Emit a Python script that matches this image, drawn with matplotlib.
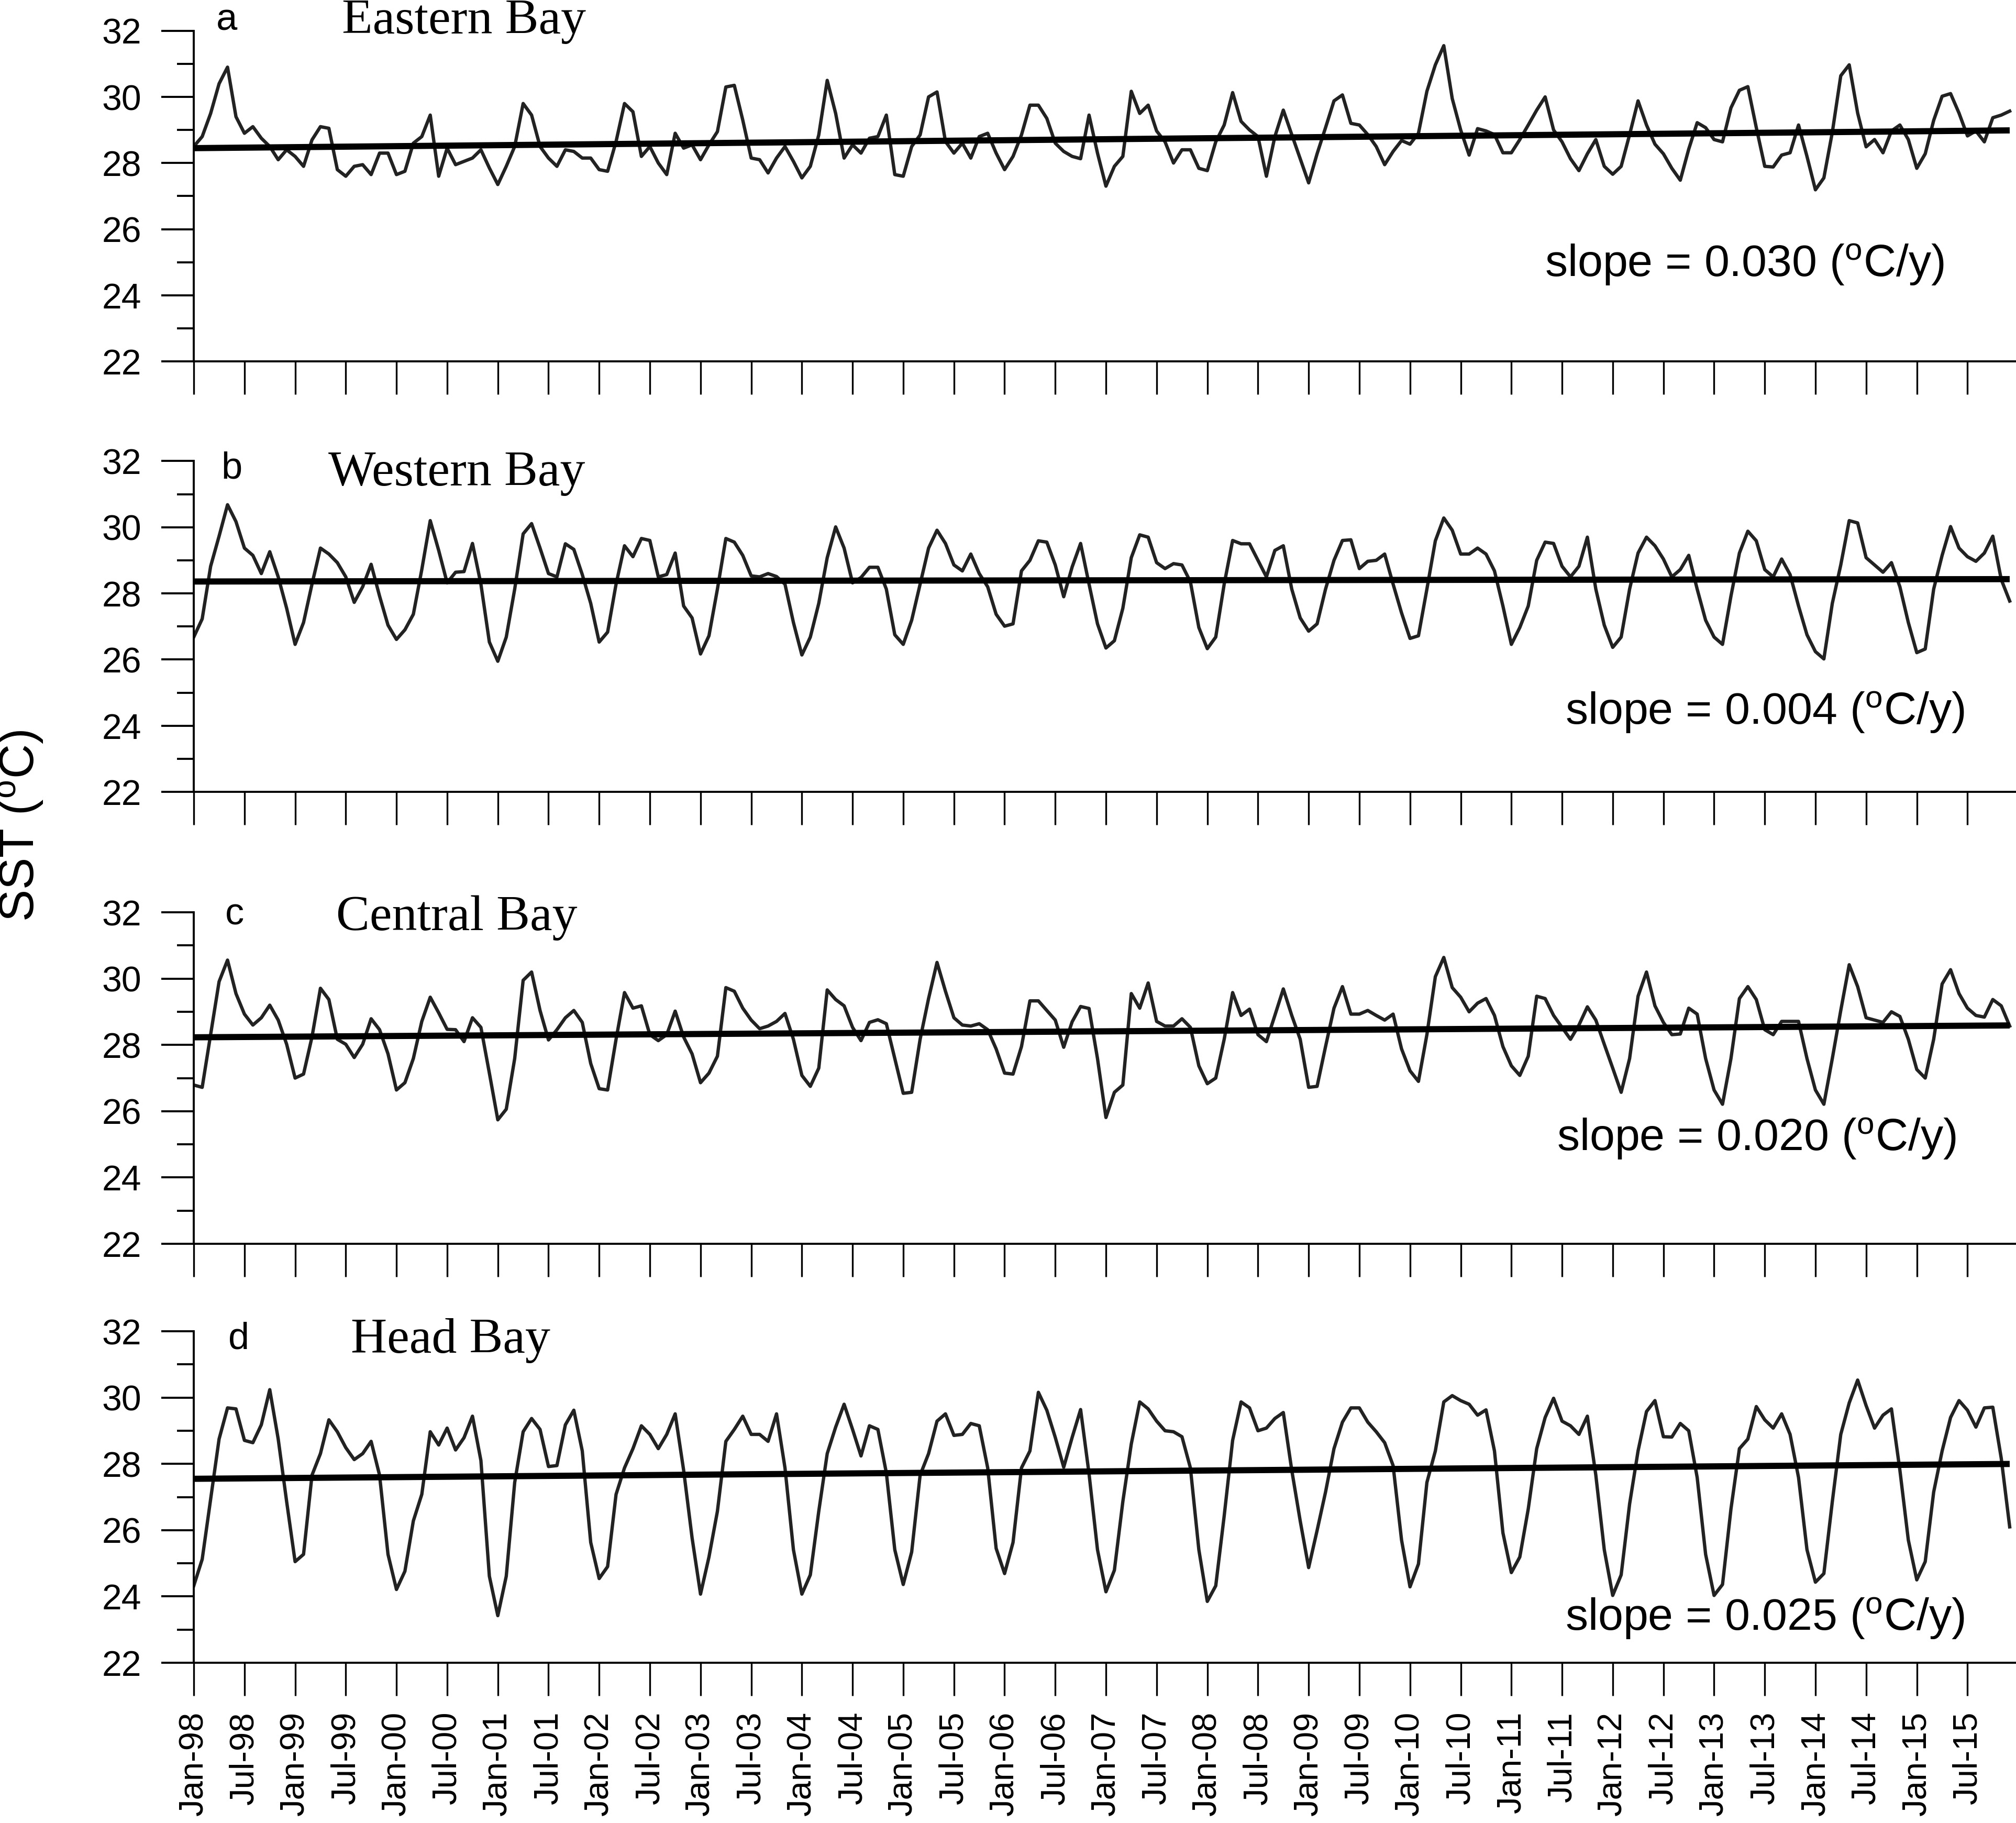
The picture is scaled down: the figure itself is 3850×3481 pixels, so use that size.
"""
Monthly SST in four parts of the Bay, Jan-98 to Dec-15, with linear trends.
"""
import matplotlib
matplotlib.use('Agg')
import matplotlib.pyplot as plt
import numpy as np

plt.rcParams['font.family'] = ['Liberation Sans', 'DejaVu Sans']
plt.rcParams['mathtext.default'] = 'regular'

###############################################################################
# Data (one value per month starting Jan-98)
###############################################################################

eastern_sst = [
    28.5, 28.8, 29.5, 30.4, 30.9, 29.4, 28.9, 29.1, 28.75, 28.5,
    28.1, 28.4, 28.2, 27.9, 28.7, 29.1, 29.05, 27.8, 27.6, 27.9,
    27.95, 27.65, 28.3, 28.3, 27.65, 27.75, 28.6, 28.8, 29.45, 27.6,
    28.45, 27.95, 28.05, 28.15, 28.4, 27.85, 27.35, 27.9, 28.5, 29.8,
    29.45, 28.5, 28.15, 27.9, 28.4, 28.35, 28.15, 28.15, 27.8, 27.75,
    28.65, 29.8, 29.55, 28.2, 28.5, 28.0, 27.65, 28.9, 28.45, 28.55,
    28.1, 28.55, 28.95, 30.3, 30.35, 29.3, 28.15, 28.1, 27.7, 28.15,
    28.5, 28.05, 27.55, 27.9, 28.85, 30.5, 29.5, 28.15, 28.55, 28.3,
    28.75, 28.8, 29.45, 27.65, 27.6, 28.5, 28.85, 30.0, 30.15, 28.65,
    28.3, 28.6, 28.15, 28.8, 28.9, 28.3, 27.8, 28.2, 28.85, 29.75,
    29.75, 29.35, 28.6, 28.35, 28.2, 28.13, 29.45, 28.3, 27.3, 27.9,
    28.2, 30.17, 29.5, 29.75, 28.97, 28.64, 28.0, 28.4, 28.4, 27.84,
    27.77, 28.64, 29.15, 30.13, 29.26, 29.0, 28.8, 27.6, 28.8, 29.6,
    28.86, 28.13, 27.4, 28.28, 29.07, 29.88, 30.06, 29.2, 29.15, 28.86,
    28.5, 27.95, 28.35, 28.68, 28.57, 28.9, 30.17, 30.97, 31.55, 29.95,
    29.0, 28.24, 29.04, 28.97, 28.86, 28.31, 28.31, 28.71, 29.15, 29.6,
    30.0, 29.0, 28.64, 28.13, 27.77, 28.28, 28.71, 27.9, 27.66, 27.9,
    28.86, 29.88, 29.15, 28.57, 28.28, 27.84, 27.48, 28.42, 29.22, 29.07,
    28.71, 28.64, 29.67, 30.2, 30.31, 29.07, 27.9, 27.88, 28.24, 28.31,
    29.15, 28.2, 27.19, 27.55, 28.93, 30.64, 30.97, 29.51, 28.49, 28.71,
    28.31, 28.97, 29.15, 28.71, 27.84, 28.28, 29.29, 30.02, 30.1, 29.51,
    28.82, 28.97, 28.64, 29.37, 29.45, 29.57,
]

western_sst = [
    26.68, 27.23, 28.82, 29.73, 30.68, 30.17, 29.37, 29.15, 28.6, 29.26,
    28.5, 27.55, 26.46, 27.12, 28.28, 29.37, 29.19, 28.93, 28.5, 27.73,
    28.2, 28.88, 27.92, 27.04, 26.61, 26.9, 27.37, 28.72, 30.2, 29.3,
    28.32, 28.64, 28.66, 29.51, 28.28, 26.53, 25.95, 26.68, 28.13, 29.8,
    30.11, 29.37, 28.6, 28.5, 29.5, 29.33, 28.57, 27.7, 26.53, 26.83,
    28.28, 29.44, 29.11, 29.66, 29.6, 28.5, 28.57, 29.22, 27.62, 27.26,
    26.17, 26.72, 28.13, 29.66, 29.55, 29.15, 28.53, 28.5, 28.6, 28.51,
    28.28, 27.12, 26.14, 26.68, 27.7, 29.08, 30.01, 29.37, 28.32, 28.48,
    28.79, 28.79, 28.13, 26.75, 26.46, 27.19, 28.28, 29.37, 29.91, 29.51,
    28.86, 28.68, 29.19, 28.6, 28.2, 27.37, 27.01, 27.08, 28.68, 29.0,
    29.59, 29.55, 28.86, 27.9, 28.8, 29.51, 28.28, 27.08, 26.35, 26.57,
    27.55, 29.08, 29.77, 29.7, 28.93, 28.75, 28.9, 28.86, 28.35, 26.97,
    26.33, 26.68, 28.28, 29.6, 29.5, 29.5, 29.0, 28.5, 29.3, 29.44,
    28.13, 27.26, 26.86, 27.08, 28.13, 29.0, 29.6, 29.62, 28.75, 28.97,
    29.0, 29.19, 28.28, 27.41, 26.64, 26.72, 28.13, 29.59, 30.28, 29.91,
    29.19, 29.19, 29.37, 29.19, 28.68, 27.62, 26.46, 26.97, 27.62, 29.0,
    29.55, 29.51, 28.82, 28.5, 28.82, 29.7, 28.13, 27.04, 26.37, 26.68,
    28.13, 29.22, 29.7, 29.44, 29.04, 28.5, 28.72, 29.15, 28.13, 27.19,
    26.68, 26.46, 27.92, 29.22, 29.88, 29.59, 28.72, 28.5, 29.04, 28.57,
    27.62, 26.75, 26.24, 26.02, 27.7, 28.86, 30.2, 30.13, 29.08, 28.86,
    28.64, 28.93, 28.2, 27.12, 26.21, 26.32, 28.13, 29.15, 30.02, 29.37,
    29.11, 28.97, 29.22, 29.73, 28.42, 27.77,
]

central_sst = [
    26.79, 26.72, 28.31, 29.91, 30.56, 29.55, 28.93, 28.6, 28.82, 29.2,
    28.75, 28.02, 27.0, 27.12, 28.24, 29.71, 29.37, 28.17, 28.02, 27.62,
    28.02, 28.79, 28.46, 27.73, 26.64, 26.86, 27.59, 28.71, 29.44, 28.97,
    28.47, 28.46, 28.1, 28.82, 28.53, 27.15, 25.74, 26.06, 27.59, 29.95,
    30.2, 29.04, 28.15, 28.46, 28.82, 29.04, 28.68, 27.44, 26.68, 26.64,
    28.17, 29.58, 29.11, 29.18, 28.31, 28.13, 28.31, 29.02, 28.24, 27.73,
    26.86, 27.15, 27.66, 29.73, 29.62, 29.11, 28.75, 28.49, 28.57, 28.71,
    28.95, 28.17, 27.08, 26.75, 27.3, 29.66, 29.37, 29.18, 28.53, 28.13,
    28.68, 28.76, 28.64, 27.59, 26.54, 26.57, 28.17, 29.4, 30.49, 29.62,
    28.82, 28.6, 28.57, 28.64, 28.46, 27.88, 27.15, 27.12, 27.95, 29.33,
    29.33, 29.04, 28.75, 27.93, 28.7, 29.16, 29.1, 27.59, 25.81, 26.57,
    26.79, 29.55, 29.11, 29.87, 28.71, 28.57, 28.57, 28.79, 28.53, 27.37,
    26.83, 27.0, 28.17, 29.58, 28.89, 29.08, 28.31, 28.1, 28.89, 29.69,
    28.89, 28.17, 26.72, 26.75, 27.95, 29.11, 29.76, 28.93, 28.93, 29.04,
    28.89, 28.75, 28.93, 27.88, 27.22, 26.9, 28.31, 30.06, 30.64, 29.73,
    29.44, 29.0, 29.26, 29.4, 28.89, 27.95, 27.37, 27.08, 27.66, 29.47,
    29.4, 28.89, 28.53, 28.17, 28.6, 29.15, 28.75, 28.02, 27.3, 26.57,
    27.59, 29.47, 30.2, 29.18, 28.68, 28.31, 28.33, 29.11, 28.93, 27.59,
    26.64, 26.21, 27.59, 29.4, 29.76, 29.37, 28.46, 28.31, 28.71, 28.71,
    28.71, 27.59, 26.64, 26.21, 27.59, 29.04, 30.42, 29.76, 28.82, 28.75,
    28.68, 29.0, 28.86, 28.17, 27.26, 27.0, 28.17, 29.84, 30.27, 29.55,
    29.11, 28.89, 28.84, 29.37, 29.18, 28.57,
]

head_sst = [
    24.32, 25.12, 26.93, 28.75, 29.69, 29.66, 28.71, 28.64, 29.18, 30.24,
    28.75, 26.86, 25.05, 25.27, 27.66, 28.31, 29.33, 28.97, 28.49, 28.13,
    28.31, 28.68, 27.66, 25.27, 24.21, 24.76, 26.28, 27.08, 28.97, 28.57,
    29.08, 28.42, 28.79, 29.44, 28.1, 24.61, 23.42, 24.61, 27.44, 28.97,
    29.37, 29.04, 27.92, 27.95, 29.18, 29.62, 28.39, 25.63, 24.54, 24.9,
    27.08, 27.88, 28.46, 29.15, 28.89, 28.46, 28.89, 29.51, 27.81, 25.77,
    24.07, 25.19, 26.57, 28.68, 29.04, 29.44, 28.89, 28.89, 28.68, 29.51,
    27.88, 25.41, 24.07, 24.65, 26.57, 28.31, 29.11, 29.8, 29.04, 28.24,
    29.15, 29.04, 27.73, 25.41, 24.36, 25.34, 27.66, 28.31, 29.29, 29.51,
    28.86, 28.89, 29.22, 29.15, 27.88, 25.45, 24.69, 25.63, 27.88, 28.39,
    30.16, 29.62, 28.8, 27.9, 28.8, 29.64, 27.7, 25.41, 24.14, 24.79,
    26.86, 28.6, 29.87, 29.66, 29.29, 29.0, 28.97, 28.82, 27.88, 25.41,
    23.85, 24.32, 26.43, 28.71, 29.87, 29.69, 29.0, 29.08, 29.37, 29.55,
    27.81, 26.28, 24.87, 25.99, 27.15, 28.46, 29.26, 29.69, 29.69, 29.26,
    28.97, 28.64, 27.95, 25.7, 24.29, 24.98, 27.44, 28.39, 29.87, 30.06,
    29.91, 29.8, 29.47, 29.63, 28.39, 25.92, 24.72, 25.19, 26.64, 28.46,
    29.4, 29.98, 29.29, 29.15, 28.89, 29.44, 27.66, 25.41, 24.03, 24.65,
    26.79, 28.39, 29.58, 29.91, 28.82, 28.81, 29.22, 29.0, 27.59, 25.27,
    24.03, 24.36, 26.64, 28.46, 28.75, 29.73, 29.33, 29.08, 29.51, 28.89,
    27.59, 25.41, 24.43, 24.69, 26.86, 28.89, 29.84, 30.53, 29.76, 29.08,
    29.47, 29.66, 27.81, 25.7, 24.5, 25.05, 27.15, 28.39, 29.4, 29.91,
    29.62, 29.11, 29.69, 29.71, 28.17, 26.1,
]

panel_letters = ['a', 'b', 'c', 'd']
panel_names = ['Eastern Bay', 'Western Bay', 'Central Bay', 'Head Bay']
panel_series = [eastern_sst, western_sst, central_sst, head_sst]

# trend line: value at Jan-98 and slope in degC per year
trend_start = [28.45, 28.36, 28.23, 27.55]
trend_slope = [0.030, 0.004, 0.020, 0.025]

tick_labels = [
    'Jan-98', 'Jul-98', 'Jan-99', 'Jul-99', 'Jan-00', 'Jul-00',
    'Jan-01', 'Jul-01', 'Jan-02', 'Jul-02', 'Jan-03', 'Jul-03',
    'Jan-04', 'Jul-04', 'Jan-05', 'Jul-05', 'Jan-06', 'Jul-06',
    'Jan-07', 'Jul-07', 'Jan-08', 'Jul-08', 'Jan-09', 'Jul-09',
    'Jan-10', 'Jul-10', 'Jan-11', 'Jul-11', 'Jan-12', 'Jul-12',
    'Jan-13', 'Jul-13', 'Jan-14', 'Jul-14', 'Jan-15', 'Jul-15',
]

###############################################################################
# Layout (pixel positions on a 3850 x 3481 canvas)
###############################################################################

W, H = 3850, 3481
AX_LEFT = 370
top_px = [58.8, 880.4, 1742.2, 2542.2]      # y of the 32 tick
bottom_px = [690.0, 1512.2, 2374.9, 3174.9]  # y of the 22 tick
letter_xy = [(413, 58), (422, 913), (430, 1766), (436, 2575)]
title_xy = [(653, 64), (627, 927), (642, 1776), (670, 2583)]
slope_xy = [(2950, 505), (2989, 1360), (2973, 2174), (2989, 3090)]


def fx(px):
    return px / W


def fy(py):
    return 1 - py / H


fig = plt.figure(figsize=(W / 100, H / 100), dpi=100)

months = np.arange(len(eastern_sst))

for k in range(4):
    ax = fig.add_axes([fx(AX_LEFT), fy(bottom_px[k]), 1 - fx(AX_LEFT),
                       (bottom_px[k] - top_px[k]) / H])
    ax.plot(months, panel_series[k], color='#222222', lw=4.6, zorder=2)
    trend = trend_start[k] + trend_slope[k] * months / 12.0
    ax.plot(months, trend, color='black', lw=8.5, solid_capstyle='butt', zorder=3)

    ax.set_xlim(0, (W - AX_LEFT) / 16.13)
    ax.set_ylim(22, 32)
    for side in ['top', 'right']:
        ax.spines[side].set_visible(False)
    for side in ['left', 'bottom']:
        ax.spines[side].set_linewidth(2.8)

    ax.set_yticks(np.arange(22, 33, 2))
    ax.set_yticks(np.arange(23, 32, 2), minor=True)
    ax.set_xticks(np.arange(0, len(tick_labels) * 6, 6))
    ax.tick_params(axis='y', which='major', direction='out', length=45,
                   width=2.8, pad=27, labelsize=49)
    ax.tick_params(axis='y', which='minor', direction='out', length=23,
                   width=2.8)
    ax.tick_params(axis='x', which='major', direction='out', length=45,
                   width=2.4, pad=22, labelsize=47)
    if k == 3:
        ax.set_xticklabels(tick_labels, rotation=90, va='top')
    else:
        ax.set_xticklabels([])

    lx, ly = letter_xy[k]
    fig.text(fx(lx), fy(ly), panel_letters[k], fontsize=52, va='baseline',
             ha='left')
    tx, ty = title_xy[k]
    fig.text(fx(tx), fy(ty), panel_names[k], fontsize=69, va='baseline',
             ha='left', family=['Liberation Serif', 'DejaVu Serif'])
    sx, sy = slope_xy[k]
    fig.text(fx(sx), fy(sy), 'slope = %.3f ($^{o}$C/y)' % trend_slope[k],
             fontsize=62, va='center', ha='left')

fig.text(fx(40), fy(1577), 'SST ($^{o}$C)', fontsize=66, rotation=90,
         va='center', ha='center')

fig.savefig('out.png', dpi=100)
